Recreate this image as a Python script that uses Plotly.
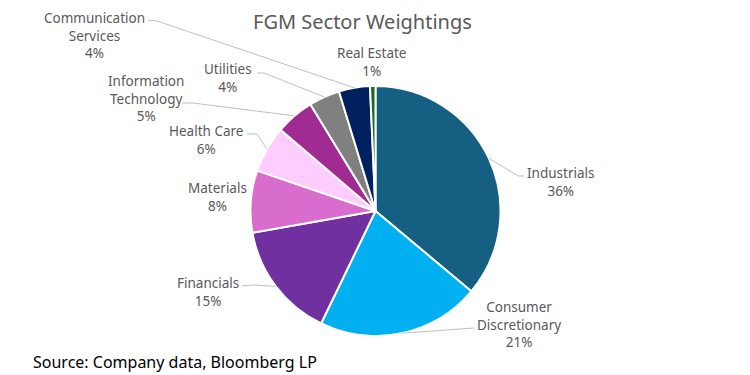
import math
import plotly.graph_objects as go

W, H = 750, 375

sectors = ["Industrials", "Consumer Discretionary", "Financials", "Materials",
           "Health Care", "Information Technology", "Utilities",
           "Communication Services", "Real Estate"]
weights = [36, 21, 15, 8, 6, 5, 4, 4, 0.7]
colors = ["#156082", "#00B0F0", "#7030A0", "#D86DCD", "#FFCCFF",
          "#A02B93", "#808080", "#002060", "#196B24"]
# label text lines (as displayed)
label_lines = [["Industrials"], ["Consumer", "Discretionary"], ["Financials"],
               ["Materials"], ["Health Care"], ["Information", "Technology"],
               ["Utilities"], ["Communication", "Services"], ["Real Estate"]]

# layout: label block centres (pixels) and leader-line label-side points (pixels)
label_pos = [(561, 181.5), (519, 324), (208, 292), (217, 197), (206, 139.5),
             (146, 98.5), (228, 78), (94.5, 35), (371, 62.5)]
leader_pts = [[(518, 176), (524, 176)], [(474, 328)], [(254, 285), (242, 286)],
              None, [(257, 134), (247, 134)], [(193, 103), (182, 103)],
              [(264, 73), (257, 73)], [(157, 21), (148, 20)], None]

CX, CY, R = 375.5, 211, 125

def px(x):
    return x / W

def py(y):
    return 1 - y / H

fig = go.Figure(go.Pie(
    labels=sectors, values=weights, sort=False, direction="clockwise",
    rotation=0, textinfo="none", hoverinfo="label+percent",
    marker=dict(colors=colors, line=dict(color="white", width=2)),
    domain=dict(x=[px(CX - R), px(CX + R)], y=[py(CY + R), py(CY - R)]),
    showlegend=False,
))

total = sum(weights)
cum = 0.0
annotations = []
shapes = []
for i, v in enumerate(weights):
    mid = (cum + v / 2) / total
    cum += v
    ang = 2 * math.pi * mid
    ex, ey = CX + R * math.sin(ang), CY - R * math.cos(ang)
    pct = f"{round(v / total * 100)}%"
    text = "<br>".join(label_lines[i] + [pct])
    lx, ly = label_pos[i]
    annotations.append(dict(
        x=px(lx), y=py(ly), xref="paper", yref="paper", text=text,
        showarrow=False, xanchor="center", yanchor="middle", align="center",
        font=dict(family="Noto Sans", size=13.5, color="#595959"),
    ))
    if leader_pts[i]:
        pts = [(ex, ey)] + leader_pts[i]
        path = "M " + " L ".join(f"{px(a)},{py(b)}" for a, b in pts)
        shapes.append(dict(type="path", path=path, xref="paper", yref="paper",
                           line=dict(color="#BFBFBF", width=1)))

annotations.append(dict(
    x=px(362), y=py(22), xref="paper", yref="paper",
    text="FGM Sector Weightings", showarrow=False,
    xanchor="center", yanchor="middle",
    font=dict(family="Noto Sans", size=20, color="#595959"),
))
annotations.append(dict(
    x=px(31), y=py(362), xref="paper", yref="paper",
    text="Source: Company data, Bloomberg LP", showarrow=False,
    xanchor="left", yanchor="middle",
    font=dict(family="Noto Sans", size=16, color="#000000"),
))

fig.update_layout(
    width=W, height=H, margin=dict(l=0, r=0, t=0, b=0),
    paper_bgcolor="white", plot_bgcolor="white",
    annotations=annotations, shapes=shapes,
)
fig.write_html("out.html", config={"displayModeBar": False},
               post_script="document.body.style.margin='0';document.body.style.overflow='hidden';")
